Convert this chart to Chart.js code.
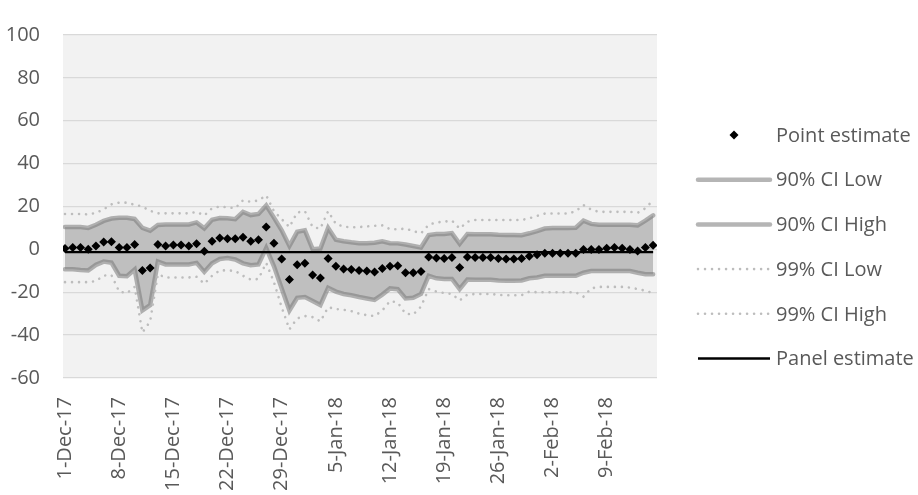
<!DOCTYPE html>
<html>
<head>
<meta charset="utf-8">
<script src="https://cdn.jsdelivr.net/npm/chart.js@4.4.1/dist/chart.umd.min.js"></script>
<style>
  html, body { margin:0; padding:0; background:#fff; }
  #wrap { width:918px; height:495px; position:relative; }
</style>
</head>
<body>
<div id="wrap"><canvas id="grafico"></canvas></div>
<script>
// ===== Dados =====
// dia 0 = 1-Dec-17, dia 76 = 15-Feb-18
const tickDays = [0, 7, 14, 21, 28, 35, 42, 49, 56, 63, 70];
const tickLabels = ['1-Dec-17','8-Dec-17','15-Dec-17','22-Dec-17','29-Dec-17','5-Jan-18',
  '12-Jan-18','19-Jan-18','26-Jan-18','2-Feb-18','9-Feb-18'];

const pointEstimate = [
  0.4, 0.9, 0.9, 0.1, 1.6, 3.4, 3.5, 0.9, 0.9, 2.3,
  -9.8, -8.7, 2.3, 1.6, 2.0, 2.0, 1.6, 2.6, -0.9, 3.8,
  5.3, 5.0, 5.0, 5.7, 3.8, 4.5, 10.4, 2.8, -4.5, -14.1,
  -7.2, -6.5, -12.0, -13.4, -4.3, -7.9, -9.1, -9.4, -9.8, -10.1,
  -10.6, -8.9, -7.9, -7.6, -10.9, -10.9, -10.3, -3.5, -4.0, -4.3,
  -3.8, -8.4, -3.5, -3.8, -3.8, -3.8, -4.3, -4.5, -4.5, -4.3,
  -3.2, -2.5, -1.8, -1.8, -1.8, -1.8, -1.8, -0.1, -0.1, -0.1,
  0.5, 0.9, 0.5, 0.0, -0.8, 0.9, 1.9
];
const ci90Low = [
  -9.3, -9.3, -9.6, -9.8, -7.2, -5.7, -6.2, -12.3, -12.5, -9.4,
  -28.5, -26.0, -5.7, -7.0, -7.0, -7.0, -7.0, -6.3, -10.5, -6.5,
  -4.5, -4.0, -4.7, -6.5, -7.4, -7.0, 0.6, -7.9, -18.2, -28.5,
  -22.6, -22.2, -24.1, -26.0, -17.9, -19.7, -20.8, -21.4, -22.2, -22.9,
  -23.6, -21.1, -18.2, -18.6, -22.9, -22.6, -20.8, -12.3, -13.5, -13.8,
  -13.8, -18.5, -14.1, -14.2, -14.2, -14.2, -14.5, -14.6, -14.6, -14.5,
  -13.5, -13.1, -12.3, -12.3, -12.3, -12.3, -12.3, -10.9, -10.1, -10.1,
  -10.1, -10.1, -10.1, -10.1, -10.9, -11.6, -11.6
];
const ci90High = [
  10.4, 10.4, 10.4, 10.0, 11.5, 13.3, 14.4, 14.7, 14.7, 14.2,
  10.0, 8.7, 11.4, 11.6, 11.6, 11.6, 11.6, 12.6, 9.8, 13.8,
  14.6, 14.5, 14.1, 17.5, 16.0, 16.5, 20.5, 14.8, 8.9, 1.6,
  8.2, 8.9, 0.1, 0.4, 10.0, 4.5, 3.8, 3.3, 2.9, 2.9,
  3.1, 3.8, 2.9, 2.8, 2.3, 1.6, 0.9, 6.7, 7.2, 7.2,
  7.6, 2.6, 7.2, 7.0, 7.0, 7.0, 6.8, 6.7, 6.7, 6.6,
  7.5, 8.5, 9.7, 10.0, 10.0, 10.0, 10.1, 13.4, 11.9, 11.5,
  11.5, 11.5, 11.5, 11.5, 11.2, 13.4, 15.9
];
const ci99Low = [
  -15.3, -15.3, -15.3, -15.3, -14.8, -12.2, -12.0, -19.7, -20.4, -17.5,
  -38.8, -33.6, -11.6, -13.1, -13.1, -13.1, -13.1, -12.8, -16.0, -12.3,
  -9.8, -9.8, -10.1, -12.3, -14.1, -13.8, -6.3, -15.3, -27.0, -37.3,
  -32.2, -31.1, -31.6, -33.6, -27.0, -27.8, -28.2, -28.8, -30.0, -30.7,
  -31.1, -28.5, -24.1, -24.8, -30.0, -30.4, -26.7, -18.5, -19.7, -20.4,
  -20.8, -23.8, -21.1, -20.8, -20.8, -20.8, -21.2, -21.4, -21.4, -21.4,
  -19.7, -20.0, -20.0, -20.0, -20.0, -20.0, -20.0, -22.0, -18.2, -17.5,
  -17.5, -17.5, -17.5, -17.8, -18.5, -19.3, -20.4
];
const ci99High = [
  16.5, 16.5, 16.5, 16.3, 17.0, 18.7, 21.0, 21.8, 21.8, 20.8,
  20.0, 18.0, 16.8, 16.8, 16.8, 16.8, 16.8, 17.5, 15.8, 19.2,
  20.0, 19.6, 19.2, 22.9, 22.2, 22.8, 25.2, 17.8, 14.1, 10.4,
  17.2, 17.8, 10.4, 9.7, 17.8, 11.9, 10.6, 10.3, 10.4, 10.7,
  11.0, 11.2, 9.4, 9.4, 9.7, 8.5, 7.5, 11.5, 12.6, 12.9,
  13.4, 9.7, 12.9, 13.7, 13.7, 13.7, 13.7, 13.7, 13.7, 13.7,
  14.5, 15.6, 16.7, 16.7, 16.7, 16.7, 17.8, 20.7, 18.5, 17.5,
  17.5, 17.5, 17.5, 17.5, 17.1, 19.2, 22.9
];
const panelEstimate = -1.3;

// ===== Estilo =====
const fonte = "'Open Sans', sans-serif";
const cinzaTexto = '#595959';
const bordaBanda = 'rgba(120,120,120,0.55)';
const pontilhado = '#bdbdbd';

const toXY = serie => serie.map((v, i) => ({ x: i, y: v }));

Chart.defaults.font.family = fonte;
Chart.defaults.font.size = 20;
Chart.defaults.color = cinzaTexto;

// fundo cinza da área do gráfico
const fundoArea = {
  id: 'fundoArea',
  beforeDraw(chart) {
    const { ctx, chartArea: a } = chart;
    ctx.save();
    ctx.fillStyle = '#f2f2f2';
    ctx.fillRect(a.left, a.top, a.right - a.left, a.bottom - a.top);
    ctx.restore();
  }
};

// legenda à direita, desenhada a partir dos datasets
const legendaDireita = {
  id: 'legendaDireita',
  afterDraw(chart) {
    const ctx = chart.ctx;
    const x0 = 698, largura = 72, y0 = 135, passo = 44.7;
    ctx.save();
    ctx.font = `20px ${fonte}`;
    ctx.textBaseline = 'middle';
    chart.data.datasets.forEach((ds, i) => {
      const y = y0 + i * passo;
      if (ds.showLine === false) {
        ctx.fillStyle = ds.backgroundColor;
        Chart.helpers.drawPoint(ctx, { pointStyle: ds.pointStyle, radius: ds.pointRadius, rotation: 0, borderWidth: 0 }, x0 + largura / 2, y);
      } else {
        ctx.beginPath();
        ctx.strokeStyle = ds.borderColor;
        ctx.lineWidth = ds.borderWidth;
        ctx.setLineDash(ds.borderDash || []);
        ctx.lineCap = ds.borderCapStyle || 'butt';
        ctx.moveTo(x0, y);
        ctx.lineTo(x0 + largura, y);
        ctx.stroke();
        ctx.setLineDash([]);
      }
      ctx.fillStyle = cinzaTexto;
      ctx.fillText(ds.label, x0 + largura + 6, y + 1);
    });
    ctx.restore();
  }
};

new Chart(document.getElementById('grafico'), {
  type: 'line',
  data: {
    datasets: [
      { label: 'Point estimate', data: toXY(pointEstimate), showLine: false,
        pointStyle: 'rectRot', pointRadius: 4.5, pointBorderWidth: 0,
        backgroundColor: '#000', borderColor: '#000', order: 0 },
      { label: '90% CI Low', data: toXY(ci90Low), borderColor: bordaBanda, borderWidth: 4.5,
        borderCapStyle: 'round', pointRadius: 0, fill: false, tension: 0, order: 3 },
      { label: '90% CI High', data: toXY(ci90High), borderColor: bordaBanda, borderWidth: 4.5,
        borderCapStyle: 'round', pointRadius: 0, fill: '-1', backgroundColor: '#bfbfbf', tension: 0, order: 3 },
      { label: '99% CI Low', data: toXY(ci99Low), borderColor: pontilhado, borderWidth: 2.6,
        borderDash: [0.01, 7], borderCapStyle: 'round', pointRadius: 0, fill: false, tension: 0, order: 2 },
      { label: '99% CI High', data: toXY(ci99High), borderColor: pontilhado, borderWidth: 2.6,
        borderDash: [0.01, 7], borderCapStyle: 'round', pointRadius: 0, fill: false, tension: 0, order: 2 },
      { label: 'Panel estimate', data: toXY(pointEstimate.map(() => panelEstimate)), borderColor: '#000',
        borderWidth: 2.3, pointRadius: 0, fill: false, tension: 0, order: 1 }
    ]
  },
  options: {
    responsive: true,
    maintainAspectRatio: false,
    animation: false,
    layout: { padding: { left: 0, right: 261, top: 14, bottom: 0 } },
    plugins: { legend: { display: false }, tooltip: { enabled: false } },
    scales: {
      x: {
        type: 'linear',
        min: -0.26,
        max: 76.5,
        grid: { display: false, drawTicks: false },
        border: { display: false },
        afterBuildTicks: s => { s.ticks = tickDays.map(v => ({ value: v })); },
        afterFit: s => { s.height = 117; },
        ticks: {
          autoSkip: false, minRotation: 90, maxRotation: 90, padding: 19,
          color: cinzaTexto, font: { size: 20 },
          callback: (v, i) => tickLabels[i]
        }
      },
      y: {
        min: -60,
        max: 100,
        grid: { color: '#d9d9d9', lineWidth: 1.3, drawTicks: false },
        border: { display: false },
        afterFit: s => { s.width = 63; },
        ticks: { stepSize: 20, padding: 23, color: cinzaTexto, font: { size: 20 } }
      }
    }
  },
  plugins: [fundoArea, legendaDireita]
});
</script>
</body>
</html>
